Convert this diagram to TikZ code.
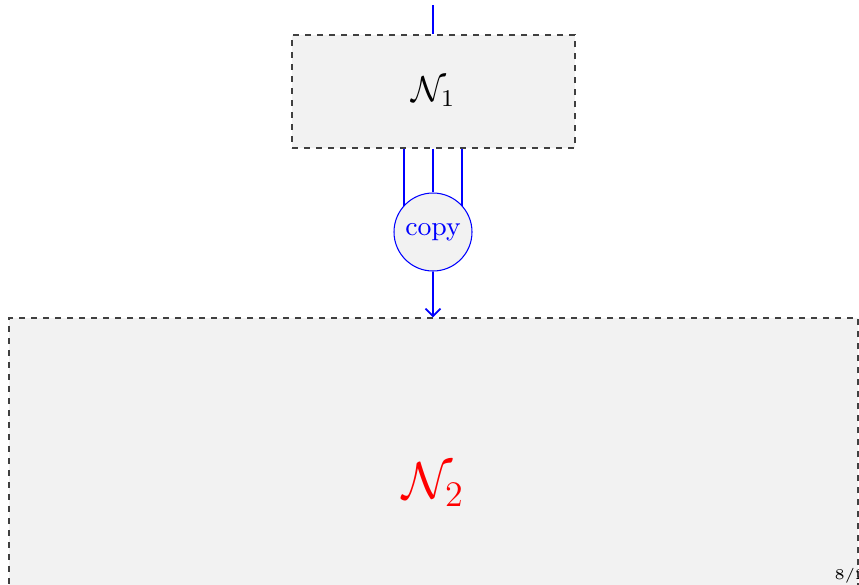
\documentclass[tikz,border=0pt]{standalone}
\usetikzlibrary{arrows.meta}
\definecolor{boxgray}{gray}{0.949}
\tikzset{
  dashbox/.style={draw=black!75, fill=boxgray, dash pattern=on 2pt off 2pt, line width=0.4pt, inner sep=0pt},
  wire/.style={draw=blue, line width=0.6pt},
  copynode/.style={circle, draw=blue, fill=boxgray, line width=0.35pt, text=blue, minimum size=26pt, inner sep=0pt, font=\small}
}
\begin{document}
\begin{tikzpicture}[x=0.33333pt, y=-0.33333pt]
\useasboundingbox (0,0) rectangle (859,584);
\clip (0,0) rectangle (859,584);
\node[dashbox, minimum width=94.33pt, minimum height=37.67pt, font=\large] (n1) at (433.5,91.5) {$\mathcal{N}_1$};
\node[dashbox, minimum width=283pt, minimum height=111.3pt, text=red, font=\LARGE] (n2) at (433.5,485) {$\mathcal{N}_2$};
\node[copynode] (cp) at (433,232) {copy};
\coordinate (top) at (433,5);
\draw[wire] (top) -- (n1.north -| top);
\draw[wire] (n1.south -| 404,0) -- (404,206);
\draw[wire] (n1.south -| top) -- (cp.north);
\draw[wire] (n1.south -| 462,0) -- (462,206);
\draw[wire, -{Straight Barb[length=2.5pt,width=5pt]}] (cp.south) -- (n2.north -| cp.south);
\node[font=\tiny, anchor=base west, inner sep=0pt] (pg) at (834,579) {8/2};
\end{tikzpicture}
\end{document}
